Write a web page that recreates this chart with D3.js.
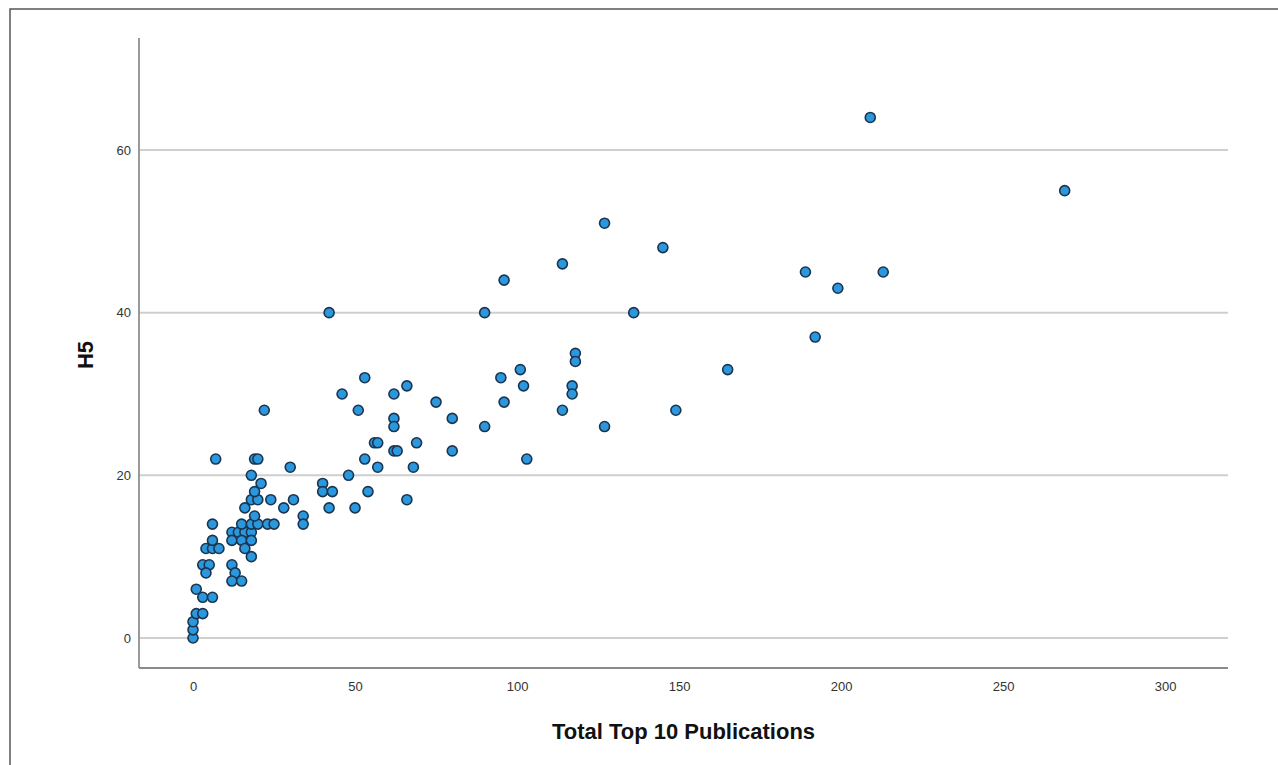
<!DOCTYPE html>
<html>
<head>
<meta charset="utf-8">
<script src="https://cdn.jsdelivr.net/npm/d3@7"></script>
<style>
  html, body { margin: 0; padding: 0; background: #fff; }
  svg { display: block; }
  .tick text { font-family: "Liberation Sans", Arial, sans-serif; font-size: 13px; fill: #333; }
</style>
</head>
<body>
<svg id="chart" width="1278" height="765"></svg>
<script>
// Total Top 10 Publications (x) against H5 (y), one entry per point
const publications = [
  0, 0, 0, 1, 3, 1, 3, 6, 3, 5, 4, 4, 6, 8, 6, 6, 7,
  12, 14, 16, 18, 12, 15, 18, 16, 18, 12, 13, 12, 15, 15, 18, 20, 23, 25,
  16, 19, 18, 20, 24, 19, 21, 18, 19, 20, 22, 30, 31, 28,
  34, 34, 40, 40, 43, 42, 42, 46, 48, 50, 51, 53, 53, 54, 56, 57, 57,
  62, 62, 62, 62, 63, 66, 66, 68, 69,
  75, 80, 80, 90, 90, 95, 96, 96, 101, 102, 103, 114, 114, 117, 117,
  118, 118, 127, 127, 136, 145, 149,
  165, 189, 192, 199, 209, 213, 269
];
const h5 = [
  0, 1, 2, 3, 3, 6, 5, 5, 9, 9, 8, 11, 11, 11, 12, 14, 22,
  13, 13, 13, 13, 12, 12, 12, 11, 10, 9, 8, 7, 7, 14, 14, 14, 14, 14,
  16, 15, 17, 17, 17, 18, 19, 20, 22, 22, 28, 21, 17, 16,
  15, 14, 19, 18, 18, 16, 40, 30, 20, 16, 28, 32, 22, 18, 24, 24, 21,
  30, 27, 26, 23, 23, 31, 17, 21, 24,
  29, 27, 23, 40, 26, 32, 44, 29, 33, 31, 22, 46, 28, 31, 30,
  35, 34, 51, 26, 40, 48, 28,
  33, 45, 37, 43, 64, 45, 55
];
const xTicks = [0, 50, 100, 150, 200, 250, 300];
const yTicks = [0, 20, 40, 60];
const xTitle = "Total Top 10 Publications";
const yTitle = "H5";

const points = publications.map((p, i) => ({ x: p, y: h5[i] }));

const plot = { left: 139, right: 1228, top: 38, bottom: 668 };

const x = d3.scaleLinear().domain([-16.67, 319.4]).range([plot.left, plot.right]);
const y = d3.scaleLinear().domain([-3.69, 73.77]).range([plot.bottom, plot.top]);

const svg = d3.select("#chart");

// outer frame (only top and left edges fall inside the page)
svg.append("rect")
  .attr("x", 10).attr("y", 9).attr("width", 1400).attr("height", 900)
  .attr("fill", "none").attr("stroke", "#555").attr("stroke-width", 1.5);

// horizontal gridlines
svg.append("g").selectAll("line").data(yTicks).join("line")
  .attr("x1", plot.left).attr("x2", plot.right)
  .attr("y1", d => y(d)).attr("y2", d => y(d))
  .attr("stroke", "#cfcfcf").attr("stroke-width", 2);

// axes: labels only, no tick marks
const yAxis = svg.append("g")
  .attr("transform", `translate(${plot.left},0)`)
  .call(d3.axisLeft(y).tickValues(yTicks).tickSize(0).tickPadding(8));
yAxis.select(".domain").remove();

const xAxis = svg.append("g")
  .attr("transform", `translate(0,${plot.bottom})`)
  .call(d3.axisBottom(x).tickValues(xTicks).tickSize(0).tickPadding(14));
xAxis.select(".domain").remove();

// axis lines
svg.append("line")
  .attr("x1", plot.left).attr("x2", plot.left)
  .attr("y1", plot.top).attr("y2", plot.bottom)
  .attr("stroke", "#9a9a9a").attr("stroke-width", 2);
svg.append("line")
  .attr("x1", plot.left).attr("x2", plot.right)
  .attr("y1", plot.bottom).attr("y2", plot.bottom)
  .attr("stroke", "#8a8a8a").attr("stroke-width", 2);

// axis titles
svg.append("text")
  .attr("x", (plot.left + plot.right) / 2).attr("y", 739)
  .attr("text-anchor", "middle")
  .attr("font-family", "Liberation Sans, Arial, sans-serif")
  .attr("font-weight", "bold").attr("font-size", 22).attr("fill", "#111")
  .text(xTitle);

svg.append("text")
  .attr("transform", `translate(93,355) rotate(-90)`)
  .attr("text-anchor", "middle")
  .attr("font-family", "Liberation Sans, Arial, sans-serif")
  .attr("font-weight", "bold").attr("font-size", 22).attr("fill", "#111")
  .text(yTitle);

// points
svg.append("g").selectAll("circle").data(points).join("circle")
  .attr("cx", d => x(d.x)).attr("cy", d => y(d.y))
  .attr("r", 5)
  .attr("fill", "#2b97dd")
  .attr("stroke", "#1b3550").attr("stroke-width", 1.6);
</script>
</body>
</html>
